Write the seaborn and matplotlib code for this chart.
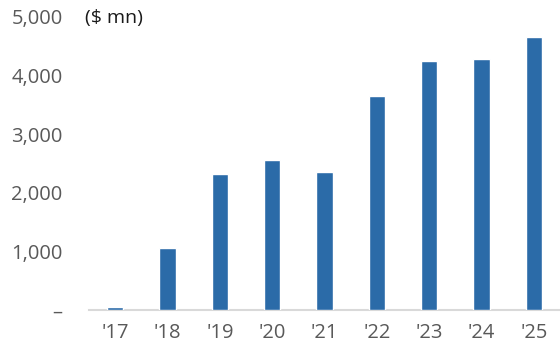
import matplotlib
matplotlib.use("Agg")
import matplotlib.pyplot as plt
import seaborn as sns
import pandas as pd

years = ["'17", "'18", "'19", "'20", "'21", "'22", "'23", "'24", "'25"]
values = [50, 1055, 2320, 2555, 2350, 3645, 4245, 4280, 4660]
yticks = [0, 1000, 2000, 3000, 4000, 5000]
ytick_labels = ["–", "1,000", "2,000", "3,000", "4,000", "5,000"]

sns.set_style("white")
plt.rcParams["font.family"] = ["Open Sans", "DejaVu Sans"]

df = pd.DataFrame({"year": years, "value": values})

fig = plt.figure(figsize=(5.6, 3.52), dpi=100)
ax = fig.add_axes([0.159, 0.119, 0.841, 0.833])

sns.barplot(data=df, x="year", y="value", color="#2b6ba8", saturation=1,
            width=0.31, ax=ax)

ax.set_xlim(-0.5, 8.5)
ax.set_ylim(0, 5000)
ax.set_yticks(yticks)
ax.set_yticklabels(ytick_labels)
ax.set_xlabel("")
ax.set_ylabel("")

for s in ["top", "right", "left"]:
    ax.spines[s].set_visible(False)
ax.spines["bottom"].set_color("#d9d9d9")
ax.spines["bottom"].set_linewidth(1.5)
ax.spines["bottom"].set_zorder(0.5)

ax.tick_params(axis="y", length=0, pad=19, labelsize=14.5, labelcolor="#595959")
ax.tick_params(axis="x", length=0, pad=9.5, labelsize=14.5, labelcolor="#595959")

fig.text(85 / 560, 1 - 18 / 352, "($ mn)", fontsize=14, color="#1a1a1a",
         va="center", ha="left")

fig.savefig("out.png", dpi=100)
